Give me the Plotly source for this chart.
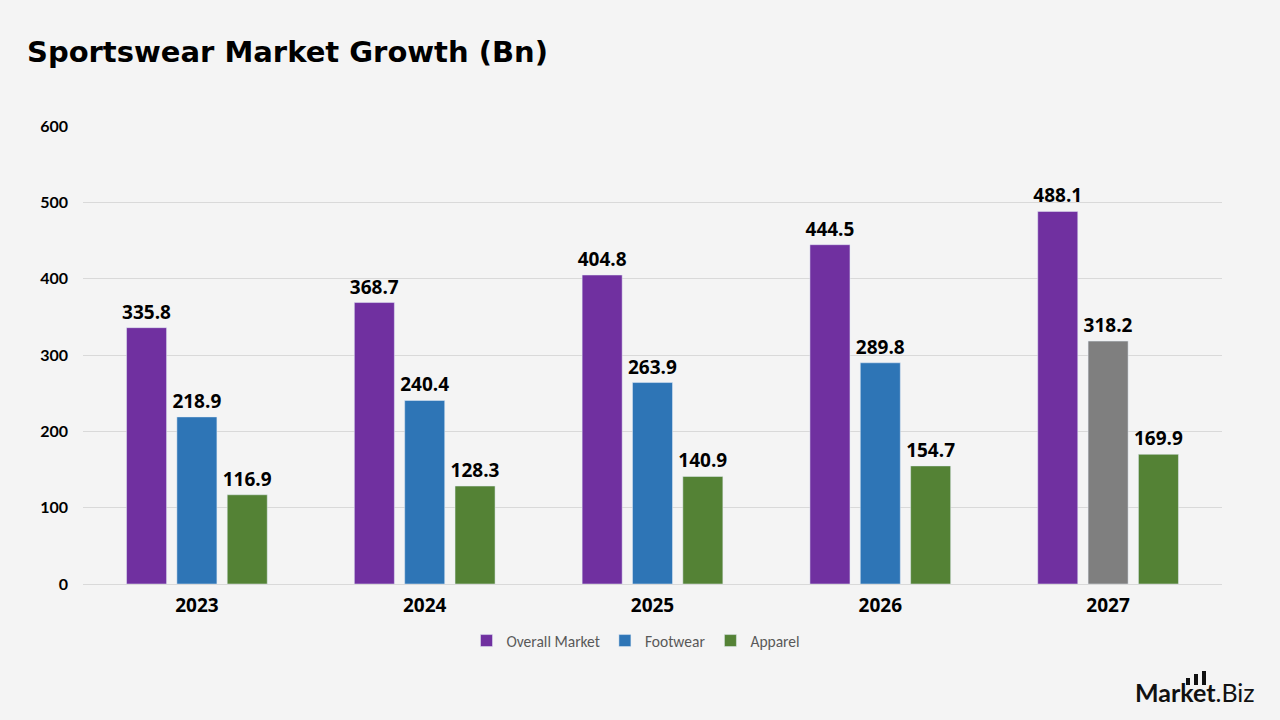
import plotly.graph_objects as go

years = ["2023", "2024", "2025", "2026", "2027"]
overall = [335.8, 368.7, 404.8, 444.5, 488.1]
footwear = [218.9, 240.4, 263.9, 289.8, 318.2]
apparel = [116.9, 128.3, 140.9, 154.7, 169.9]
y_ticks = [0, 100, 200, 300, 400, 500, 600]

PURPLE = "#7030A0"
BLUE = "#2E75B6"
GREEN = "#548235"
GREY = "#7F7F7F"
BG = "#F4F4F4"
label_font = dict(family="Open Sans, Arial", size=19, color="#000000")

L, R, T, B = 83, 1222, 126, 584
PW, PH = R - L, B - T


def px(x):
    return (x - L) / PW


def py(y):
    return (B - y) / PH


common = dict(textposition="outside", textfont=label_font, cliponaxis=False,
              constraintext="none")

fig = go.Figure()
fig.add_trace(go.Bar(name="Overall Market", x=years, y=overall, marker_color=PURPLE,
                     text=[f"<b>{v:.1f}</b>" for v in overall], **common))
fig.add_trace(go.Bar(name="Footwear", x=years, y=footwear,
                     marker_color=[BLUE, BLUE, BLUE, BLUE, GREY],
                     text=[f"<b>{v:.1f}</b>" for v in footwear], **common))
fig.add_trace(go.Bar(name="Apparel", x=years, y=apparel, marker_color=GREEN,
                     text=[f"<b>{v:.1f}</b>" for v in apparel], **common))

fig.update_layout(
    width=1280, height=720,
    paper_bgcolor=BG, plot_bgcolor=BG,
    margin=dict(l=L, r=1280 - R, t=T, b=720 - B, autoexpand=False),
    barmode="group", bargap=0.337, bargroupgap=0.205,
    title=dict(text="<b>Sportswear Market Growth (Bn)</b>", x=27/1280, xanchor="left",
               y=1-52/720, yanchor="middle",
               font=dict(family="DejaVu Sans, Arial", size=29, color="#000000")),
    xaxis=dict(tickfont=dict(family="Open Sans, Arial", size=19, color="#000000"),
               tickvals=years, ticktext=[f"<b>{y}</b>" for y in years],
               showgrid=False, showline=False, ticks="", ticklabelstandoff=8,
               automargin=False),
    yaxis=dict(range=[0, 600], tickvals=y_ticks, ticktext=[f"<b>{v}</b>" for v in y_ticks],
               showgrid=True, gridcolor="#D9D9D9",
               gridwidth=1, zeroline=True, zerolinecolor="#D9D9D9", zerolinewidth=1,
               tickfont=dict(family="Lato, Arial", size=16, color="#000000"),
               ticks="", ticklabelstandoff=14, automargin=False),
    legend=dict(orientation="h", x=636/1280, xanchor="center", xref="container",
                y=1-641/720, yanchor="middle", yref="container",
                font=dict(family="Carlito, Lato, Arial", size=15.5, color="#595959"),
                itemwidth=30, traceorder="normal"),
    showlegend=True,
)

fig.add_annotation(text="<b>Market</b>.Biz", xref="paper", yref="paper",
                   x=px(1257), y=py(692), xanchor="right", yanchor="middle",
                   showarrow=False,
                   font=dict(family="Lato, Arial", size=25, color="#111111"))

# logo bars
for x0, top in [(1186, 678), (1194, 674), (1202, 671)]:
    fig.add_shape(type="rect", xref="paper", yref="paper",
                  x0=px(x0), x1=px(x0 + 4), y0=py(685), y1=py(top),
                  fillcolor="#111111", line_width=0)

fig.write_html("out.html")
